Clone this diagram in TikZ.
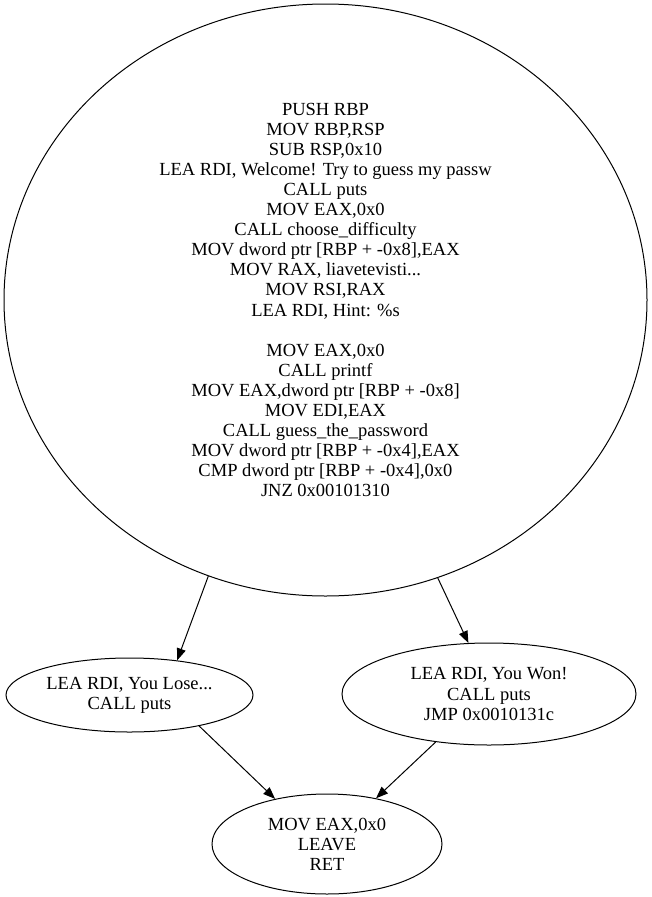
\documentclass[tikz,border=0pt]{standalone}
\usepackage{fontspec}
\setmainfont{Liberation Serif}
\usetikzlibrary{shapes.geometric,arrows.meta}
\begin{document}
\begin{tikzpicture}[x=1pt,y=-1pt,
  blk/.style={draw,ellipse,line width=1pt,inner sep=0pt,align=center,
    font={\fontsize{18.5}{20.1}\selectfont}},
  arr/.style={line width=1pt,-{Triangle[length=12pt,width=9pt]}}]
\useasboundingbox (0,0) rectangle (651,897);
\node[blk,minimum width=643pt,minimum height=592pt] (top) at (325.5,300) {PUSH RBP\\MOV RBP,RSP\\SUB RSP,0x10\\LEA RDI, Welcome! Try to guess my passw\\CALL puts\\MOV EAX,0x0\\CALL choose\_difficulty\\MOV dword ptr [RBP + -0x8],EAX\\MOV RAX, liavetevisti...\\MOV RSI,RAX\\LEA RDI, Hint: \%s\\[20.1pt]MOV EAX,0x0\\CALL printf\\MOV EAX,dword ptr [RBP + -0x8]\\MOV EDI,EAX\\CALL guess\_the\_password\\MOV dword ptr [RBP + -0x4],EAX\\CMP dword ptr [RBP + -0x4],0x0\\JNZ 0x00101310};
\node[blk,minimum width=247pt,minimum height=74pt] (lose) at (129.5,695) {LEA RDI, You Lose...\\CALL puts};
\node[blk,minimum width=294pt,minimum height=102pt] (won) at (489,694) {LEA RDI, You Won!\\CALL puts\\JMP 0x0010131c};
\node[blk,minimum width=230pt,minimum height=100pt] (ret) at (327,844) {MOV EAX,0x0\\LEAVE\\RET};
\draw[arr] (top.247.3) -- (lose.36.4);
\draw[arr] (top.292.5) -- (won.112.6);
\draw[arr] (lose.336.7) -- (ret.139.4);
\draw[arr] (won.222.5) -- (ret.43.4);
\end{tikzpicture}
\end{document}
